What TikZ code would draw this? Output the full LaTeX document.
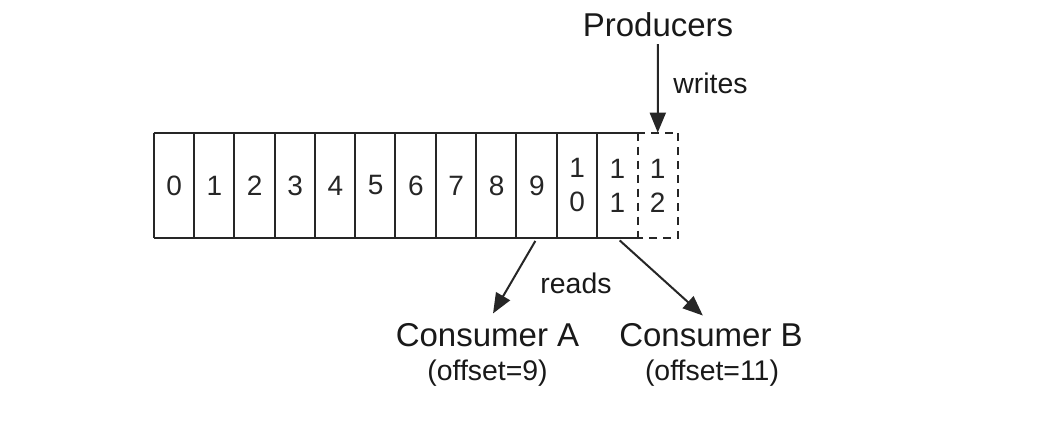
\documentclass[tikz,border=0pt]{standalone}
\usepackage{fontspec}
\setmainfont{Liberation Sans}
\usetikzlibrary{arrows.meta}
\begin{document}
\begin{tikzpicture}[x=0.5pt,y=-0.5pt,
  ln/.style={line width=1pt, draw=black!85},
  dsh/.style={ln, dash pattern=on 4pt off 3pt},
  arr/.style={ln, -{Triangle[length=10pt,width=8pt]}},
  cell/.style={minimum width=20.15pt, minimum height=52.5pt, inner sep=0pt,
    font=\fontsize{14}{17}\selectfont, align=center, text=black!85},
  big/.style={font=\fontsize{16.5}{20}\selectfont, inner sep=0pt, text=black!90},
  small/.style={font=\fontsize{14.2}{17}\selectfont, inner sep=0pt, text=black!90}]
\useasboundingbox (0,0) rectangle (1056,421);
\fill[white] (0,0) rectangle (1056,421);
% cells
\foreach \i/\t in {0/0,1/1,2/2,3/3,4/4,5/5,6/6,7/7,8/8,9/9,10/{1\\0},11/{1\\1},12/{1\\2}}
  \node[cell] (c\i) at ({154+40.3*(\i+0.5)},185.5) {\t};
\draw[ln] (c0.north west) -- (c11.north east);
\draw[ln] (c0.south west) -- (c11.south east);
\foreach \i in {0,...,11}
  \draw[ln] (c\i.north west) -- (c\i.south west);
\draw[dsh] (c11.north east) -- (c11.south east);
\draw[dsh] (c12.north west) -- (c12.north east) -- (c12.south east) -- (c12.south west);
% labels
\node[big] (prod) at (658,25) {Producers};
\node[small, anchor=west] (wr) at (673,83) {writes};
\node[small] (rd) at (576,283) {reads};
\node[big] (ca) at (487.5,335) {Consumer A};
\node[big] (cb) at (711,335) {Consumer B};
\node[small] (oa) at (487.5,373.5) {(offset=9)};
\node[small] (ob) at (712,373.5) {(offset=11)};
% connectors
\draw[arr, shorten <=3.25pt] (prod.south) -- (c12.north);
\draw[arr, shorten <=1.5pt, shorten >=5.5pt] (c9.south) -- (ca.north);
\draw[arr, shorten <=1.5pt, shorten >=5.5pt] (c11.south) -- (cb.north);
\end{tikzpicture}
\end{document}
